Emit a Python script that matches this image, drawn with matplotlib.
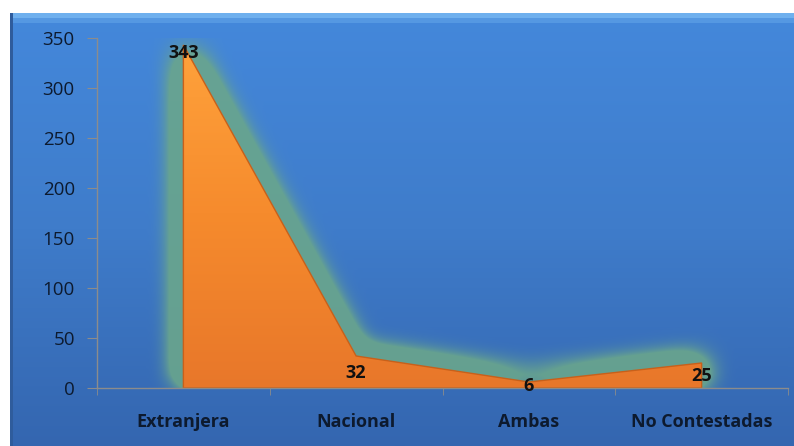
import matplotlib.pyplot as plt
import numpy as np
from matplotlib.colors import LinearSegmentedColormap, to_rgb
from matplotlib.patches import Polygon, Rectangle
from matplotlib.path import Path

categories = ['Extranjera', 'Nacional', 'Ambas', 'No Contestadas']
values = [343, 32, 6, 25]
y_ticks = [0, 50, 100, 150, 200, 250, 300, 350]

plt.rcParams['font.family'] = ['Open Sans', 'DejaVu Sans']

W, H = 794, 446
fig = plt.figure(figsize=(W / 100, H / 100), dpi=100)
fig.patch.set_facecolor('white')

# blue panel behind the chart, with a vertical gradient
panel_top = 13
bg = fig.add_axes([10 / W, 0, 784 / W, (H - panel_top) / H], zorder=-10)
grad = np.linspace(0, 1, 256).reshape(-1, 1)
bg_cmap = LinearSegmentedColormap.from_list('bg', ['#4488db', '#3f7cca', '#3466b0'])
bg.imshow(grad, aspect='auto', cmap=bg_cmap, extent=[0, 1, 0, 1], origin='upper')
bg.add_patch(Rectangle((0, 0.988), 1, 0.012, color='#6fb0ee', lw=0))
bg.add_patch(Rectangle((0, 0.978), 1, 0.01, color='#5598e2', lw=0))
bg.add_patch(Rectangle((0, 0), 0.004, 1, color='#2f5c9c', lw=0))
bg.set_xlim(0, 1)
bg.set_ylim(0, 1)
bg.axis('off')

ax_left, ax_bottom, ax_w, ax_h = 97, 58, 691, 350
ax = fig.add_axes([ax_left / W, ax_bottom / H, ax_w / W, ax_h / H])
ax.set_facecolor('none')
x = np.arange(len(categories))
ax.set_xlim(-0.5, len(categories) - 0.5)
ax.set_ylim(0, 350)

# area outline as a closed polygon
verts = [(x[0], 0)] + list(zip(x, values)) + [(x[-1], 0)]
path = Path(verts + [verts[0]], closed=True)

# soft green glow around the area, blended onto the panel colour
gx = np.linspace(-0.5, len(categories) - 0.5, ax_w)
gy = np.linspace(0, 350, ax_h)
GX, GY = np.meshgrid(gx, gy)
mask = path.contains_points(np.c_[GX.ravel(), GY.ravel()]).reshape(ax_h, ax_w).astype(float)


def box_blur(a, r):
    k = np.ones(2 * r + 1) / (2 * r + 1)
    pad = np.pad(a, r, mode='constant')
    a = np.apply_along_axis(lambda m: np.convolve(m, k, mode='valid'), 1, pad)
    a = np.apply_along_axis(lambda m: np.convolve(m, k, mode='valid'), 0, a)
    return a


glow = mask
for _ in range(3):
    glow = box_blur(glow, 13)
alpha = (np.clip(glow * 7, 0, 1) * 0.9)[..., None]

# position of each glow row inside the panel gradient (0 = top, 1 = bottom)
t = (H - ax_bottom - ax_h + (350 - gy) * ax_h / 350.0 - panel_top) / (H - panel_top)
panel = bg_cmap(np.clip(t, 0, 1))[:, :3][:, None, :]
green = np.array(to_rgb('#6aa68c'))[None, None, :]
rgb = panel * (1 - alpha) + green * alpha
ax.imshow(rgb, extent=[gx[0], gx[-1], 0, 350], origin='lower', aspect='auto',
          interpolation='nearest', zorder=1)

# orange area with vertical gradient
orange = LinearSegmentedColormap.from_list('or', ['#e8772a', '#f68b2d', '#ffa33c'])
poly = Polygon(verts, closed=True, facecolor='none', edgecolor='#c8601a', lw=1.0, zorder=3)
ax.add_patch(poly)
im = ax.imshow(np.linspace(0, 1, 256).reshape(-1, 1), cmap=orange, origin='lower',
               extent=[gx[0], gx[-1], 0, 350], aspect='auto', zorder=2)
im.set_clip_path(poly)

# data labels
offsets = [-8, -17, -4, -13]
for xi, v, off in zip(x, values, offsets):
    ax.annotate(str(v), (xi, v), xytext=(0, off), textcoords='offset pixels',
                ha='center', va='center', fontsize=13, fontweight='bold',
                color='#111111', zorder=5)

ax.set_yticks(y_ticks)
ax.set_xticks(x)
ax.set_xticklabels(categories, fontsize=13, fontweight='bold', color='#0d1a2e')
ax.set_xticks(np.arange(-0.5, len(categories)), minor=True)
ax.tick_params(axis='x', which='major', length=0, pad=18)
ax.tick_params(axis='x', which='minor', length=5, color='#8c8c8c')
ax.tick_params(axis='y', length=7, color='#8c8c8c', labelsize=13.5, labelcolor='#0d1a2e', pad=9)

for s in ['top', 'right']:
    ax.spines[s].set_visible(False)
for s in ['left', 'bottom']:
    ax.spines[s].set_color('#8c8c8c')
    ax.spines[s].set_linewidth(1)
    ax.spines[s].set_zorder(4)

fig.savefig('out.png', dpi=100)
